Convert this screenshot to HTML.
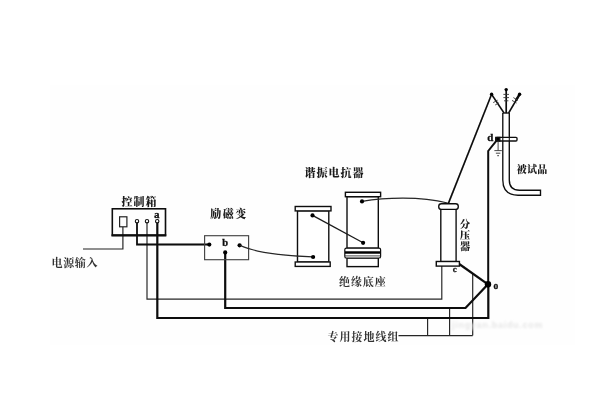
<!DOCTYPE html>
<html lang="zh-CN">
<head>
<meta charset="utf-8">
<title>串联谐振试验接线图</title>
<style>
html,body{margin:0;padding:0;background:#fff;}
body{width:600px;height:400px;overflow:hidden;position:relative;}
svg{position:absolute;left:0;top:0;display:block;}
.cn{font-family:"Liberation Serif","Noto Serif CJK SC",serif;font-weight:900;font-size:11px;fill:#1a1a1a;}
.lite{font-weight:700;fill:#333;}
.lt{font-family:"Liberation Serif","Noto Serif CJK SC",serif;font-weight:700;font-size:11px;fill:#111;stroke:#111;stroke-width:0.3px;}
.wm{font-family:"Liberation Sans",sans-serif;font-weight:700;font-size:9px;fill:#e6e6e6;}
</style>
</head>
<body>
<svg width="600" height="400" viewBox="0 0 600 400">
  <defs>
    <filter id="soft" x="-5%" y="-5%" width="110%" height="110%"><feGaussianBlur stdDeviation="0.45"/></filter>
    <filter id="wmb" x="-5%" y="-20%" width="110%" height="140%"><feGaussianBlur stdDeviation="0.9"/></filter>
  </defs>
  <rect x="0" y="0" width="600" height="400" fill="#ffffff"/>
  <rect x="50" y="85" width="525" height="260" fill="#fefefe"/>

  <g filter="url(#soft)" fill="none" stroke-linecap="butt" stroke-linejoin="miter">

    <!-- thin grey wiring -->
    <g stroke="#262626" stroke-width="1.18">
      <!-- power input -->
      <path d="M122.9 227 V249 H83"/>
      <!-- control box terminal 2 to divider bottom -->
      <path d="M147 223 V299.2 H441.8 V266"/>
      <!-- grounding group -->
      <path d="M398.5 335.6 H472.7"/>
      <path d="M427.6 318 V335.6"/>
      <path d="M449.6 308 V335.6"/>
      <path d="M472.7 274 V335.6"/>
    </g>

    <!-- control box -->
    <rect x="112.3" y="208.8" width="53.2" height="26.5" stroke="#111" stroke-width="1.6"/>
    <path d="M111.5 235.4 H166.3" stroke="#111" stroke-width="2.1"/>
    <rect x="119.6" y="216.8" width="7.3" height="10" stroke="#222" stroke-width="1.2"/>
    <g stroke="#111" stroke-width="1.1" fill="#fff">
      <circle cx="137" cy="221.2" r="1.7"/>
      <circle cx="147" cy="221.2" r="1.7"/>
      <circle cx="157.2" cy="221.2" r="1.7"/>
    </g>

    <!-- thick wiring -->
    <g stroke="#0a0a0a">
      <path d="M137 223 V244.5 H209.5" stroke-width="1.8"/>
      <path d="M157.3 223 V318 H488.3 V284" stroke-width="2.2"/>
      <path d="M225.2 252.5 V308 H465.5 L488 284.3" stroke-width="2.2"/>
      <path d="M458.5 263.5 L488 284.3" stroke-width="2.2"/>
      <path d="M488.2 286 V151 L496.5 140.6" stroke-width="2" stroke-linejoin="round"/>
      <path d="M491.6 94.3 L448.4 203.4" stroke-width="1.65"/>
    </g>
    <circle cx="488" cy="284.3" r="3.2" fill="#000"/>

    <!-- excitation transformer -->
    <rect x="204.6" y="235.7" width="44" height="24" stroke="#444" stroke-width="1.15"/>
    <g fill="#000">
      <circle cx="209.3" cy="244.6" r="2.1"/>
      <circle cx="239.6" cy="245.3" r="2.1"/>
      <circle cx="225.2" cy="252.4" r="2.1"/>
    </g>

    <!-- reactor 1 -->
    <g stroke="#111" stroke-width="1.4" fill="#fff">
      <rect x="297.5" y="210.8" width="31.3" height="51.2"/>
      <rect x="295.2" y="206.5" width="35.8" height="4.4"/>
      <rect x="295.2" y="262" width="35" height="4.4"/>
    </g>
    <!-- reactor 2 with insulating base -->
    <g stroke="#111" stroke-width="1.4" fill="#fff">
      <rect x="347" y="196.6" width="31.3" height="51.6"/>
      <rect x="345.4" y="192.3" width="35.2" height="4.4"/>
      <rect x="347" y="258" width="31.3" height="8.6"/>
      <rect x="344.8" y="248.2" width="35.8" height="9.8" rx="1.6" ry="1.6" stroke-width="1.2"/>
    </g>
    <path d="M345 252.5 H380.4" stroke="#050505" stroke-width="2.6"/>
    <path d="M345 255.9 H380.4" stroke="#333" stroke-width="0.9"/>
    <!-- links between the units -->
    <g stroke="#262626" stroke-width="1.25">
      <path d="M239.6 245.3 C 250 250, 272 255.5, 312.8 256.8"/>
      <path d="M362 201.4 C 385 197.5, 420 196.2, 447.6 203"/>
    </g>
    <path d="M312.5 215.4 L363.1 242.8" stroke="#1a1a1a" stroke-width="1.3"/>
    <g fill="#000">
      <circle cx="312.5" cy="215.4" r="2.1"/>
      <circle cx="313.1" cy="257" r="2.1"/>
      <circle cx="362" cy="201.4" r="2.1"/>
      <circle cx="363.1" cy="242.8" r="2.1"/>
    </g>

    <!-- divider -->
    <g stroke="#111" stroke-width="1.4" fill="#fff">
      <rect x="440.8" y="208.6" width="15.3" height="53"/>
      <rect x="438.7" y="203.8" width="19.6" height="5.6" rx="2.7" ry="2.7"/>
      <rect x="436.3" y="261.5" width="23.1" height="4.6"/>
    </g>

    <!-- test object (cable) -->
    <g stroke="#111" stroke-width="1.35">
      <path d="M502.8 113 H509.4"/>
      <path d="M502.8 113 V180 Q502.8 195.2 518 195.2 H540.5 V190.2 H519.5 Q509.3 190.2 509.3 180 V113"/>
      <rect x="496" y="137.3" width="21" height="3.7" rx="1" ry="1" fill="#fff"/>
      <path d="M502.8 137.3 V141 M509.3 137.3 V141" stroke-width="1.1"/>
      <path d="M495.8 137.3 H499.8 V141 H495.8 Z" fill="#000"/>
    </g>
    <g stroke="#0c0c0c" stroke-width="1.7" stroke-linecap="round">
      <path d="M503.6 112.4 L491.6 94.4"/>
      <path d="M506.2 112.4 V89.8"/>
      <path d="M509 112.4 L519.6 94.4"/>
      <path d="M516.4 99.6 L519.6 94.4" stroke-width="2.4"/>
    </g>
    <g stroke="#333" stroke-width="0.9">
      <path d="M493.2 102.6 L497.6 100.2"/>
      <path d="M495.2 105 L499 102.8"/>
      <path d="M503.4 94.4 H509"/>
      <path d="M503.4 97.6 H509"/>
      <path d="M504 100.8 H508.4"/>
      <path d="M513.4 97.6 L518 100.4"/>
      <path d="M512 100.4 L516.6 103"/>
    </g>
    <g fill="#000">
      <circle cx="491.6" cy="94.3" r="1.7"/>
      <circle cx="506.2" cy="89.6" r="1.7"/>
      <circle cx="519.6" cy="94.3" r="1.7"/>
    </g>
    <!-- earth symbol -->
    <g stroke="#333" stroke-width="0.9">
      <path d="M498.1 141 V150.4"/>
      <path d="M494.4 150.6 H501.8"/>
      <path d="M495.9 153.2 H500.3"/>
      <path d="M497.2 155.7 H499"/>
    </g>
  </g>

  <!-- labels -->
  <g filter="url(#soft)">
    <text class="cn" x="121.4" y="205.9" textLength="35" lengthAdjust="spacing">控制箱</text>
    <text class="cn lite" x="51.5" y="266.8" textLength="46" lengthAdjust="spacing">电源输入</text>
    <text class="cn" x="210.3" y="218.2" textLength="36" lengthAdjust="spacing">励磁变</text>
    <text class="cn" x="304.6" y="177.2" textLength="59" lengthAdjust="spacing">谐振电抗器</text>
    <text class="cn lite" x="339" y="286.4" textLength="46.8" lengthAdjust="spacing">绝缘底座</text>
    <text class="cn lite" x="327.6" y="340.5" textLength="71" lengthAdjust="spacing">专用接地线组</text>
    <text class="cn" style="font-size:10px" x="516.7" y="173" textLength="30.5" lengthAdjust="spacing">被试品</text>
    <text class="cn" style="font-size:10.5px" x="459.8" y="227.7">分</text>
    <text class="cn" style="font-size:10.5px" x="459.8" y="239.1">压</text>
    <text class="cn" style="font-size:10.5px" x="459.8" y="250.4">器</text>
    <text class="lt" x="154" y="217.6">a</text>
    <text class="lt" style="font-size:10.5px" x="222.3" y="245.8">b</text>
    <text class="lt" style="font-size:9px" x="452.7" y="272">c</text>
    <text class="lt" x="487.3" y="141.1">d</text>
    <text class="lt" style="font-size:9.5px" x="493.6" y="288.9">o</text>
  </g>
  <text class="wm" filter="url(#wmb)" x="452" y="328.3" textLength="90.5" lengthAdjust="spacing">jingyan.baidu.com</text>
</svg>
</body>
</html>
